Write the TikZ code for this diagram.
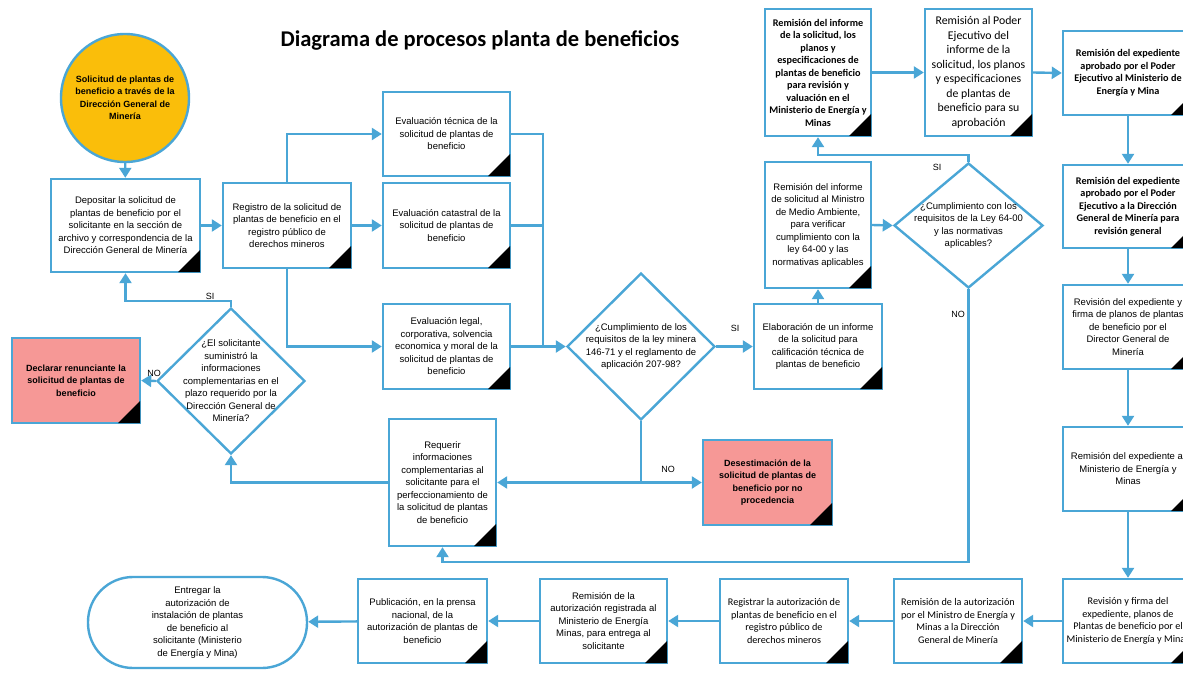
\documentclass[tikz,border=0pt]{standalone}
\usepackage{fontspec}
\setmainfont{Liberation Sans}
\newfontfamily\calfont{Carlito}
\usetikzlibrary{arrows.meta,shapes.geometric}
\definecolor{flujo}{RGB}{74,166,214}
\definecolor{oro}{RGB}{250,190,10}
\definecolor{rosa}{RGB}{246,152,150}
\begin{document}
\begin{tikzpicture}[x=1pt,y=-1pt,
    caja/.style 2 args={rectangle, draw=flujo, line width=2.4pt, fill=white, align=center, inner sep=1pt,
      minimum width=#1, minimum height=#2, font=\fontsize{9.5}{12.5}\selectfont},
    rombo/.style 2 args={diamond, draw=flujo, line width=2.4pt, fill=white, inner sep=0pt,
      minimum width=#1, minimum height=#2},
    negrita/.style={font=\bfseries\fontsize{9}{12.5}\selectfont},
    cal/.style={font=\calfont\fontsize{10.2}{12.5}\selectfont},
    calb/.style={font=\calfont\bfseries\fontsize{10.2}{12.5}\selectfont},
    linea/.style={draw=flujo, line width=2.4pt},
    flecha/.style={draw=flujo, line width=2.4pt, -{Triangle[length=10pt,width=12pt]}},
    etiq/.style={font=\fontsize{9}{11}\selectfont}]
  \useasboundingbox (0,0) rectangle (1183,674);
  \fill[white] (0,0) rectangle (1183,674);
  \clip (0,0) rectangle (1183,674);

  \node[font=\calfont\bfseries\fontsize{22.5}{26}\selectfont] (titulo) at (480,40) {Diagrama de procesos planta de beneficios};

  \node[circle, draw=flujo, line width=2.4pt, fill=oro, minimum size=128pt, inner sep=0pt, align=center,
        font=\bfseries\fontsize{9}{12.5}\selectfont] (ini) at (125,98)
        {Solicitud de plantas de\\beneficio a través de la\\Dirección General de\\Minería};
  \node[caja={149pt}{93pt}] (dep) at (125.5,225.5)
        {Depositar la solicitud de\\plantas de beneficio por el\\solicitante en la sección de\\archivo y correspondencia de la\\Dirección General de Minería};
  \node[caja={128pt}{85pt}] (reg) at (287,225.5)
        {Registro de la solicitud de\\plantas de beneficio en el\\registro público de\\derechos mineros};
  \node[caja={127pt}{84pt}] (tec) at (446.5,134)
        {Evaluación técnica de la\\solicitud de plantas de\\beneficio};
  \node[caja={127pt}{85pt}] (cat) at (446.5,225.5)
        {Evaluación catastral de la\\solicitud de plantas de\\beneficio};
  \node[caja={127pt}{85pt}] (leg) at (446.5,346.5)
        {Evaluación legal,\\corporativa, solvencia\\economica y moral de la\\solicitud de plantas de\\beneficio};
  \node[rombo={148pt}{147pt}] (d1) at (641,346.5) {};
  \node[align=center, font=\fontsize{9.5}{12.5}\selectfont] (d1t) at (d1)
        {¿Cumplimiento de los\\requisitos de la ley minera\\146-71 y el reglamento de\\aplicación 207-98?};
  \node[caja={128pt}{85pt}] (ela) at (818,346.5)
        {Elaboración de un informe\\de la solicitud para\\calificación técnica de\\plantas de beneficio};
  \node[caja={106pt}{126pt}] (mma) at (818,225)
        {Remisión del informe\\de solicitud al Ministro\\de Medio Ambiente,\\para verificar\\cumplimiento con la\\ley 64-00 y las\\normativas aplicables};
  \node[rombo={149pt}{125pt}] (d2) at (968.5,225.5) {};
  \node[align=center, font=\fontsize{9.5}{12.5}\selectfont] (d2t) at (d2)
        {¿Cumplimiento con los\\requisitos de la Ley 64-00\\y las normativas\\aplicables?};
  \node[caja={106pt}{127pt}, calb] (r1) at (818,72.5)
        {Remisión del informe\\de la solicitud, los\\planos y\\especificaciones de\\plantas de beneficio\\para revisión y\\valuación en el\\Ministerio de Energía y\\Minas};
  \node[caja={107pt}{127pt}, font=\calfont\fontsize{11.8}{14.5}\selectfont] (r2) at (978.5,72.5)
        {Remisión al Poder\\Ejecutivo del\\informe de la\\solicitud, los planos\\y especificaciones\\de plantas de\\beneficio para su\\aprobación};
  \node[caja={130pt}{84pt}, calb] (r3) at (1128,73)
        {Remisión del expediente\\aprobado por el Poder\\Ejecutivo al Ministerio de\\Energía y Mina};
  \node[caja={130pt}{83pt}, calb] (r4) at (1128,206.5)
        {Remisión del expediente\\aprobado por el Poder\\Ejecutivo a la Dirección\\General de Minería para\\revisión general};
  \node[caja={130pt}{84pt}] (r5) at (1128,327)
        {Revisión del expediente y\\firma de planos de plantas\\de beneficio por el\\Director General de\\Minería};
  \node[caja={130pt}{84pt}] (r6) at (1128,469)
        {Remisión del expediente al\\Ministerio de Energía y\\Minas};
  \node[caja={130pt}{84pt}, cal] (r7) at (1128,621)
        {Revisión y firma del\\expediente, planos de\\Plantas de beneficio por el\\Ministerio de Energía y Minas};
  \node[caja={128pt}{84pt}, cal] (b1) at (958,621)
        {Remisión de la autorización\\por el Ministro de Energía y\\Minas a la Dirección\\General de Minería};
  \node[caja={128pt}{84pt}, cal] (b2) at (784,621)
        {Registrar la autorización de\\plantas de beneficio en el\\registro público de\\derechos mineros};
  \node[caja={127pt}{84pt}] (b3) at (603.5,621)
        {Remisión de la\\autorización registrada al\\Ministerio de Energía\\Minas, para entrega al\\solicitante};
  \node[caja={129pt}{84pt}] (b4) at (422.5,621)
        {Publicación, en la prensa\\nacional, de la\\autorización de plantas de\\beneficio};
  \node[caja={219pt}{91pt}, rounded corners=45pt] (fin) at (197.5,622.5)
        {Entregar la\\autorización de\\instalación de plantas\\de beneficio al\\solicitante (Ministerio\\de Energía y Mina)};
  \node[rombo={148pt}{146pt}] (d3) at (231,381) {};
  \node[align=center, font=\fontsize{9.5}{12.5}\selectfont] (d3t) at (d3)
        {¿El solicitante\\suministró la\\informaciones\\complementarias en el\\plazo requerido por la\\Dirección General de\\Minería?};
  \node[caja={128pt}{85pt}, fill=rosa, negrita] (dec) at (76,380.5)
        {Declarar renunciante la\\solicitud de plantas de\\beneficio};
  \node[caja={107pt}{127pt}] (req) at (442.5,482.5)
        {Requerir\\informaciones\\complementarias al\\solicitante para el\\perfeccionamiento de\\la solicitud de plantas\\de beneficio};
  \node[caja={129pt}{85pt}, fill=rosa, negrita] (des) at (767.5,482.5)
        {Desestimación de la\\solicitud de plantas de\\beneficio por no\\procedencia};

  \foreach \n in {dep,reg,tec,cat,leg,ela,mma,r1,r2,r3,r4,r5,r6,r7,b1,b2,b3,b4,dec,req,des}
    \fill ([shift={(-1.2,-1.2)}]\n.south east) -- ++(-22,0) -- ++(22,-22) -- cycle;

  \coordinate (j1) at (543,346.5);
  \coordinate (j2) at (641,482.5);
  \coordinate (c2) at (968.5,562);

  \draw[flecha] (ini) -- (dep);
  \draw[flecha] (dep) -- (reg);
  \draw[flecha] (reg.north) |- (tec.west);
  \draw[flecha] (reg) -- (cat);
  \draw[flecha] (reg.south) |- (leg.west);
  \draw[linea] (tec.east) -| (j1);
  \draw[linea] (cat.east) -| (j1);
  \draw[flecha] (leg.east) -- (d1.west);
  \draw[flecha] (d1.east) -- (ela.west);
  \draw[flecha] (ela) -- (mma);
  \draw[flecha] (mma.east) -- (d2.west);
  \draw[flecha] (d2.north) -- ++(0,-7) -| (r1.south);
  \draw[flecha] (r1.east) -- (r2.west);
  \draw[flecha] (r2.east) -- (r3.west);
  \draw[flecha] (r3) -- (r4);
  \draw[flecha] (r4) -- (r5);
  \draw[flecha] (r5) -- (r6);
  \draw[flecha] (r6) -- (r7);
  \draw[flecha] (r7) -- (b1);
  \draw[flecha] (b1) -- (b2);
  \draw[flecha] (b2) -- (b3);
  \draw[flecha] (b3) -- (b4);
  \draw[flecha] (b4) -- (fin);
  \draw[linea] (d1.south) -- (j2);
  \draw[flecha] (j2) -- (req.east);
  \draw[flecha] (j2) -- (des.west);
  \draw[flecha] (d2.south) -- (c2) -| (req.south);
  \draw[flecha] (req.west) -| (d3.south);
  \draw[flecha] (d3.north) -- ++(0,-6) -| (dep.south);
  \draw[flecha] (d3.west) -- (dec.east);

  \node[etiq] (si1) at (735,328) {SI};
  \node[etiq] (no1) at (668,469) {NO};
  \node[etiq] (si2) at (937,167) {SI};
  \node[etiq] (no2) at (958,314) {NO};
  \node[etiq] (si3) at (210,296) {SI};
  \node[etiq] (no3) at (154,373) {NO};
\end{tikzpicture}
\end{document}
